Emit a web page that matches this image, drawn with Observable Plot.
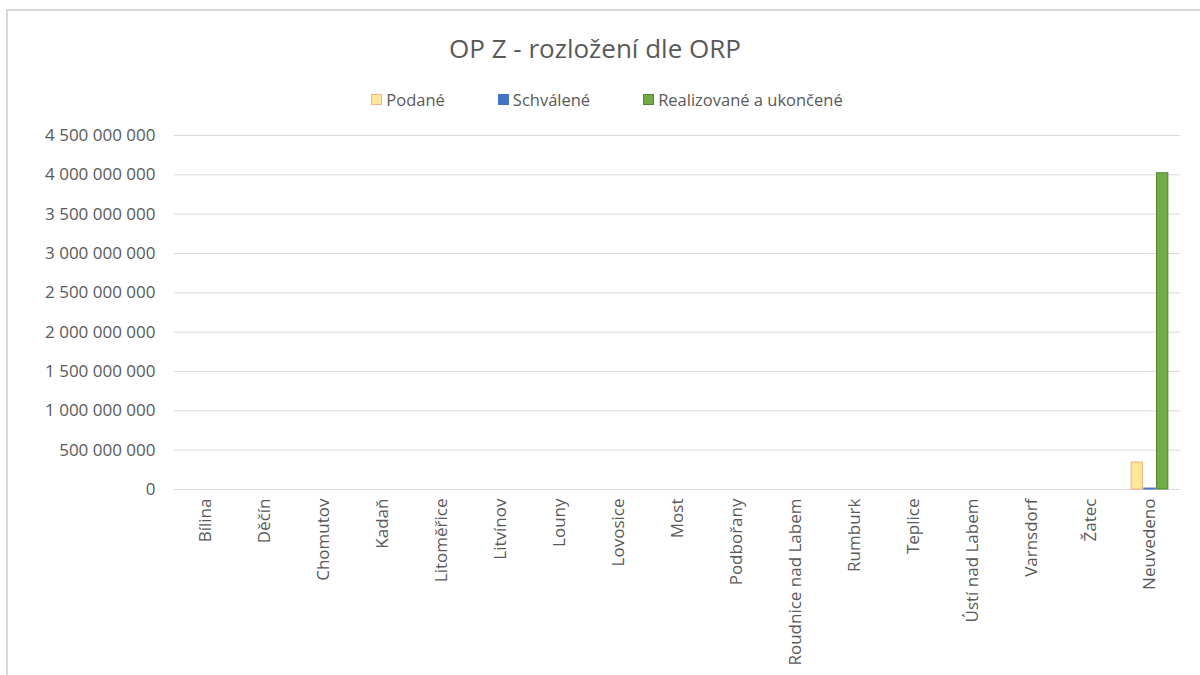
<!DOCTYPE html>
<html>
<head>
<meta charset="utf-8">
<script src="https://cdn.jsdelivr.net/npm/d3@7"></script>
<script src="https://cdn.jsdelivr.net/npm/@observablehq/plot@0.6"></script>
<style>
  html, body { margin: 0; padding: 0; background: #fff; }
  #wrap { position: relative; width: 1200px; height: 675px; overflow: hidden; background: #fff; font-family: "Open Sans", sans-serif; color: #595959; }
  #frame { position: absolute; left: 6px; top: 9px; width: 1260px; height: 720px; border: 2px solid #d9d9d9; box-sizing: border-box; }
  #title { position: absolute; top: 33px; left: 0; width: 1190px; text-align: center; font-size: 26px; line-height: 1.2; color: #595959; }
  #legend { position: absolute; top: 88px; left: 0; width: 1214px; display: flex; justify-content: center; gap: 53px; font-size: 16.5px; color: #595959; }
  .item { display: flex; align-items: center; gap: 4px; }
  .sw { width: 11px; height: 11px; box-sizing: border-box; }
  #chart { position: absolute; left: 0; top: 120px; }
</style>
</head>
<body>
<div id="wrap">
  <div id="frame"></div>
  <div id="title">OP Z - rozložení dle ORP</div>
  <div id="legend"></div>
  <div id="chart"></div>
</div>
<script>
const categories = ["Bílina","Děčín","Chomutov","Kadaň","Litoměřice","Litvínov","Louny","Lovosice","Most","Podbořany","Roudnice nad Labem","Rumburk","Teplice","Ústí nad Labem","Varnsdorf","Žatec","Neuvedeno"];
const series = ["Podané","Schválené","Realizované a ukončené"];
const podane      = [0,0,0,0,0,0,0,0,0,0,0,0,0,0,0,0,343000000];
const schvalene   = [0,0,0,0,0,0,0,0,0,0,0,0,0,0,0,0,12000000];
const realizovane = [0,0,0,0,0,0,0,0,0,0,0,0,0,0,0,0,4020000000];
const yTicks = [0,500000000,1000000000,1500000000,2000000000,2500000000,3000000000,3500000000,4000000000,4500000000];

const fills   = ["#FFE699","#4472C4","#70AD47"];
const strokes = ["#F4B183","#4472C4","#548235"];

const values = [podane, schvalene, realizovane];
const rows = series.map((s, si) => categories.map((c, i) => ({orp: c, series: s, value: values[si][i]})));

// legend
const legend = document.getElementById("legend");
series.forEach((s, i) => {
  const it = document.createElement("div");
  it.className = "item";
  it.innerHTML = `<span class="sw" style="background:${fills[i]};border:1px solid ${strokes[i]}"></span><span>${s}</span>`;
  legend.appendChild(it);
});

const locale = d3.formatLocale({decimal: ",", thousands: "\u00a0", grouping: [3], currency: ["", ""]});
const fmt = locale.format(",");

const W = 1200, ML = 174, MR = 20;
const bw = (W - ML - MR) / categories.length;
const barW = 11.5, gap = 1.2;
const offsets = [-(barW * 1.5 + gap), -barW / 2, barW / 2 + gap]; // left edge relative to centre

const marks = [
  Plot.gridY(yTicks, {stroke: "#d9d9d9", strokeOpacity: 1, strokeWidth: 1}),
  Plot.axisY(yTicks, {tickSize: 0, tickPadding: 19, tickFormat: fmt, fontSize: 17, fill: "#595959"}),
  Plot.axisX({tickSize: 0, tickPadding: 9, tickRotate: -90, fontSize: 17, fill: "#595959"})
];
series.forEach((s, si) => {
  const left = bw / 2 + offsets[si];
  marks.push(Plot.barY(rows[si], {
    x: "orp", y: "value",
    filter: d => d.value > 0,
    fill: fills[si], stroke: strokes[si], strokeWidth: 1,
    insetLeft: left, insetRight: bw - left - barW
  }));
});

const chart = Plot.plot({
  width: W, height: 555,
  marginLeft: ML, marginRight: MR, marginTop: 15, marginBottom: 186,
  style: {fontFamily: "Open Sans, sans-serif", color: "#595959", background: "transparent"},
  x: {domain: categories, padding: 0, label: null},
  y: {domain: [0, 4500000000], label: null},
  marks
});
document.getElementById("chart").appendChild(chart);
</script>
</body>
</html>
